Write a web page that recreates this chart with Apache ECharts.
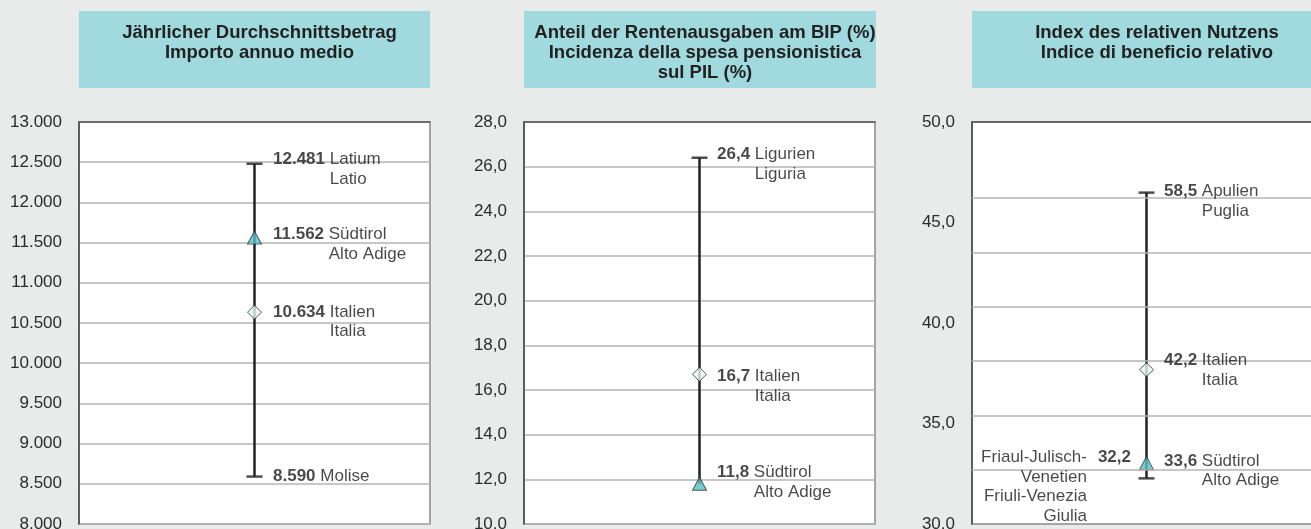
<!DOCTYPE html>
<html>
<head>
<meta charset="utf-8">
<title>Renten</title>
<script src="https://cdn.jsdelivr.net/npm/echarts@6/dist/echarts.min.js"></script>
<style>
html,body{margin:0;padding:0;background:#e9ebea;}
#chart{width:1311px;height:529px;}
</style>
</head>
<body>
<div id="chart"></div>
<script>
// Jährlicher Durchschnittsbetrag
var amountVals = [12481, 11562, 10634, 8590];
var amountNames = ['Latium', 'Südtirol', 'Italien', 'Molise'];
var amountNamesIt = ['Latio', 'Alto Adige', 'Italia', ''];
var amountKinds = ['cap', 'triangle', 'diamond', 'cap'];
var amountTicks = [8000, 8500, 9000, 9500, 10000, 10500, 11000, 11500, 12000, 12500, 13000];

// Anteil der Rentenausgaben am BIP (%)
var shareVals = [26.4, 16.7, 11.8];
var shareNames = ['Ligurien', 'Italien', 'Südtirol'];
var shareNamesIt = ['Liguria', 'Italia', 'Alto Adige'];
var shareKinds = ['cap', 'diamond', 'triangle'];
var shareTicks = [10, 12, 14, 16, 18, 20, 22, 24, 26, 28];

// Index des relativen Nutzens
var benefitVals = [58.5, 42.2, 33.6, 32.2];
var benefitNames = ['Apulien', 'Italien', 'Südtirol', 'Friaul-Julisch-\nVenetien'];
var benefitNamesIt = ['Puglia', 'Italia', 'Alto Adige', 'Friuli-Venezia\nGiulia'];
var benefitKinds = ['cap', 'diamond', 'triangle', 'cap'];
var benefitTicks = [30, 35, 40, 45, 50];
// the values sit on their own scale in the original, with its own grid lines
var benefitScale = [28, 65];
var benefitGrid = [33, 38, 43, 48, 53, 58];

var titles = [
    'Jährlicher Durchschnittsbetrag\nImporto annuo medio',
    'Anteil der Rentenausgaben am BIP (%)\nIncidenza della spesa pensionistica\nsul PIL (%)',
    'Index des relativen Nutzens\nIndice di beneficio relativo'
];

var FONT = 'Liberation Sans';
var FS = 17;
var LH = 19.5;
var TXT = '#1a1a1a';
var ctx = document.createElement('canvas').getContext('2d');
function textW(str, bold){
    ctx.font = (bold ? 'bold ' : '') + FS + 'px "' + FONT + '"';
    return ctx.measureText(str).width;
}
function fmtThousand(v){
    return String(Math.round(v)).replace(/\B(?=(\d{3})+(?!\d))/g, '.');
}
function fmtDec(v){
    return v.toFixed(1).replace('.', ',');
}

// layout of each panel (pixels)
var panels = [
    {left: 79, width: 351, boxW: 351, vals: amountVals, de: amountNames, it: amountNamesIt, kinds: amountKinds,
     fmt: fmtThousand, dist: 18, shift: [-4, -3, 0, 0], side: ['r', 'r', 'r', 'r']},
    {left: 524, width: 351, boxW: 352, vals: shareVals, de: shareNames, it: shareNamesIt, kinds: shareKinds,
     fmt: fmtDec, dist: 17, shift: [-3, 2, -11], side: ['r', 'r', 'r']},
    {left: 972, width: 349, boxW: 360, vals: benefitVals, de: benefitNames, it: benefitNamesIt, kinds: benefitKinds,
     fmt: fmtDec, dist: 17, shift: [-1, -9, -2, -21], side: ['r', 'r', 'r', 'l']}
];

var richBase = {
    v: {fontFamily: FONT, fontSize: FS, fontWeight: 'bold', color: TXT, lineHeight: LH},
    n: {fontFamily: FONT, fontSize: FS, color: TXT, lineHeight: LH}
};

function makeLabel(num, de, it, side, dist, shift){
    var rest = de.split('\n');
    var first = rest.shift();
    if(it){ rest = rest.concat(it.split('\n')); }
    var rich = {v: richBase.v, n: richBase.n};
    var text;
    if(side == 'r'){
        rich.p = {width: textW(num + ' ', true), lineHeight: LH};
        text = '{v|' + num + '}{n| ' + first + '}';
        rest.forEach(function(l){ text += '\n{p|}{n|' + l + '}'; });
    }else{
        var gap = 11;
        rich.g = {width: gap, lineHeight: LH};
        rich.p = {width: gap + textW(num, true), lineHeight: LH};
        text = '{n|' + first + '}{g|}{v|' + num + '}';
        rest.forEach(function(l){ text += '\n{n|' + l + '}{p|}'; });
    }
    return {
        show: true,
        color: TXT,
        textBorderWidth: 0,
        position: side == 'r' ? 'right' : 'left',
        distance: side == 'r' ? dist : 15,
        align: side == 'r' ? 'left' : 'right',
        verticalAlign: 'top',
        offset: [0, shift - LH / 2],
        formatter: text,
        rich: rich
    };
}

var grids = [], xAxes = [], yAxes = [], series = [], titleOpts = [], boxes = [];

panels.forEach(function(p, i){
    grids.push({left: p.left, top: 122, width: p.width, height: 402, show: true,
        outerBoundsMode: 'none', containLabel: false,
        backgroundColor: '#fff', borderColor: '#8a8a8a', borderWidth: 1.5});
    xAxes.push({gridIndex: i, type: 'value', min: -1, max: 1, position: 'top',
        axisLine: {show: true, onZero: false, lineStyle: {color: '#555', width: 1.5}},
        axisTick: {show: false}, axisLabel: {show: false}, splitLine: {show: false}});

    boxes.push({type: 'rect', left: p.left, top: 11, z: -1,
        shape: {width: p.boxW, height: 77}, style: {fill: '#a0dadf'}});
    titleOpts.push({text: titles[i], left: p.left + p.boxW / 2, top: 18, textAlign: 'center',
        textStyle: {fontFamily: FONT, fontSize: 18.5, fontWeight: 'bold', color: '#222', lineHeight: 20}});
});

var axisCommon = {
    type: 'value',
    axisLine: {show: true, onZero: false, lineStyle: {color: '#444', width: 1.5}},
    axisTick: {show: false},
    axisLabel: {fontFamily: FONT, fontSize: FS, color: '#2b2b2b', margin: 17},
    splitLine: {show: true, lineStyle: {color: '#b4b4b4', width: 1.5}}
};
function yAxisFor(grid, ticks, fmt, split){
    var a = echarts.util.merge({}, axisCommon, true);
    a.gridIndex = grid;
    a.min = ticks[0];
    a.max = ticks[ticks.length - 1];
    a.interval = ticks[1] - ticks[0];
    a.axisLabel.formatter = fmt;
    a.splitLine.show = split;
    return a;
}
yAxes.push(yAxisFor(0, amountTicks, fmtThousand, true));
yAxes.push(yAxisFor(1, shareTicks, fmtDec, true));
yAxes.push(yAxisFor(2, benefitTicks, fmtDec, false));
yAxes.push({gridIndex: 2, type: 'value', show: false, min: benefitScale[0], max: benefitScale[1]});

var valueAxis = [0, 1, 3];

// grid lines of the third panel's own scale
series.push({
    type: 'line', xAxisIndex: 2, yAxisIndex: 3, z: 1, silent: true,
    data: [[0, benefitScale[0]]], symbol: 'none', lineStyle: {opacity: 0},
    markLine: {
        silent: true, symbol: ['none', 'none'], animation: false,
        label: {show: false},
        lineStyle: {color: '#b4b4b4', width: 1.5, type: 'solid'},
        data: benefitGrid.map(function(v){ return {yAxis: v}; })
    }
});

panels.forEach(function(p, i){
    var hi = Math.max.apply(null, p.vals), lo = Math.min.apply(null, p.vals);
    series.push({
        type: 'line', xAxisIndex: i, yAxisIndex: valueAxis[i], z: 3, silent: true,
        data: [[0, hi], [0, lo]], symbol: 'none',
        lineStyle: {color: '#222', width: 2.5}
    });

    var marks = [];
    p.vals.forEach(function(v, k){
        var kind = p.kinds[k];
        if(kind == 'cap'){
            marks.push({value: [0, v], symbol: 'rect', symbolSize: [16, 2.5],
                itemStyle: {color: '#222', borderWidth: 0}});
        }else if(kind == 'triangle'){
            marks.push({value: [0, v], symbol: 'triangle', symbolSize: [14, 13],
                itemStyle: {color: '#57bfc7', borderColor: '#333', borderWidth: 1}});
        }else{
            marks.push({value: [0, v], symbol: 'diamond', symbolSize: [14, 14],
                itemStyle: {color: '#e4f5f5', borderColor: '#333', borderWidth: 1}});
        }
    });
    series.push({type: 'scatter', xAxisIndex: i, yAxisIndex: valueAxis[i], z: 4, silent: true, data: marks});

    var labels = p.vals.map(function(v, k){
        return {value: [0, v],
            label: makeLabel(p.fmt(v), p.de[k], p.it[k], p.side[k], p.dist, p.shift[k])};
    });
    series.push({type: 'scatter', xAxisIndex: i, yAxisIndex: valueAxis[i], z: 5, silent: true,
        symbolSize: 1, itemStyle: {color: 'rgba(0,0,0,0)'}, data: labels});
});

var chart = echarts.init(document.getElementById('chart'));
chart.setOption({
    animation: false,
    backgroundColor: '#e9ebea',
    textStyle: {fontFamily: FONT},
    title: titleOpts,
    graphic: boxes,
    grid: grids,
    xAxis: xAxes,
    yAxis: yAxes,
    series: series
});
</script>
</body>
</html>
